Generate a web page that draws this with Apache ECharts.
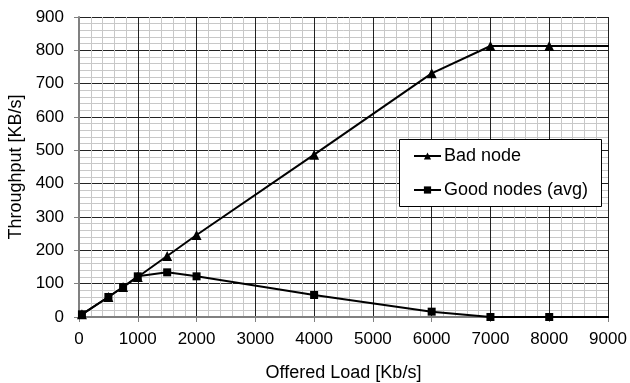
<!DOCTYPE html>
<html>
<head>
<meta charset="utf-8">
<script src="https://cdn.jsdelivr.net/npm/echarts@6/dist/echarts.min.js"></script>
<style>html,body{margin:0;padding:0;background:#fff}#c{width:630px;height:383px}</style>
</head>
<body>
<div id="c"></div>
<script>
const loads = [50, 500, 750, 1000, 1500, 2000, 4000, 6000, 7000, 8000, 9080];
const badNode = [8, 60, 90, 120, 183, 246, 487, 731, 813, 813, 813];
const goodNodes = [8, 60, 90, 122, 134, 122, 66, 16, 0, 0, 0];
const seriesNames = ['Bad node', 'Good nodes (avg)'];
const xTicks = [0, 1000, 2000, 3000, 4000, 5000, 6000, 7000, 8000, 9000];
const yTicks = [0, 100, 200, 300, 400, 500, 600, 700, 800, 900];

const font = 'Liberation Sans';
const last = loads.length - 1;
function pairs(ys) { return loads.map((x, i) => [x, ys[i]]); }

const chart = echarts.init(document.getElementById('c'), null, {renderer: 'canvas'});
chart.setOption({
  animation: false,
  backgroundColor: '#fff',
  grid: {left: 79, right: 22, top: 17, bottom: 66, containLabel: false, outerBoundsMode: 'none'},
  graphic: [{
    type: 'rect', left: 399, top: 139, z: 50,
    shape: {width: 202, height: 67},
    style: {fill: '#fff', stroke: '#000', lineWidth: 1}
  }],
  xAxis: {
    type: 'value', min: xTicks[0], max: xTicks[xTicks.length - 1], interval: 1000,
    name: 'Offered Load [Kb/s]', nameLocation: 'middle', nameGap: 47,
    nameTextStyle: {color: '#000', fontFamily: font, fontSize: 18},
    axisLine: {show: true, onZero: false, lineStyle: {color: '#808080', width: 2}},
    axisTick: {show: true, length: 5, lineStyle: {color: '#808080', width: 1}},
    axisLabel: {color: '#000', fontFamily: font, fontSize: 17, margin: 14, formatter: v => String(v)},
    splitLine: {show: true, lineStyle: {color: '#222', width: 1}},
    minorTick: {show: false, splitNumber: 5},
    minorSplitLine: {show: true, lineStyle: {color: '#c8c8c8', width: 1}}
  },
  yAxis: {
    type: 'value', min: yTicks[0], max: yTicks[yTicks.length - 1], interval: 100,
    name: 'Throughput [KB/s]', nameLocation: 'middle', nameGap: 53,
    nameTextStyle: {color: '#000', fontFamily: font, fontSize: 18},
    axisLine: {show: true, lineStyle: {color: '#808080', width: 2}},
    axisTick: {show: true, length: 5, lineStyle: {color: '#808080', width: 1}},
    axisLabel: {color: '#000', fontFamily: font, fontSize: 17, margin: 15, formatter: v => String(v)},
    splitLine: {show: true, lineStyle: {color: '#222', width: 1}},
    minorTick: {show: false, splitNumber: 5},
    minorSplitLine: {show: true, lineStyle: {color: '#c8c8c8', width: 1}}
  },
  legend: {
    orient: 'vertical', left: 413, top: 147, z: 60,
    padding: 0, itemGap: 16, itemWidth: 27, itemHeight: 9,
    textStyle: {color: '#000', fontFamily: font, fontSize: 18, padding: [0, 0, 0, -2]},
    data: seriesNames
  },
  series: [
    {
      name: seriesNames[0], type: 'line', data: pairs(badNode), clip: false,
      symbol: 'triangle', symbolSize: (v, p) => p && p.dataIndex === last ? 0 : 10,
      lineStyle: {color: '#000', width: 2}, itemStyle: {color: '#000'}, z: 3
    },
    {
      name: seriesNames[1], type: 'line', data: pairs(goodNodes), clip: false,
      symbol: 'rect', symbolSize: (v, p) => p && p.dataIndex === last ? 0 : 8,
      lineStyle: {color: '#000', width: 2}, itemStyle: {color: '#000'}, z: 4
    }
  ]
});
</script>
</body>
</html>
